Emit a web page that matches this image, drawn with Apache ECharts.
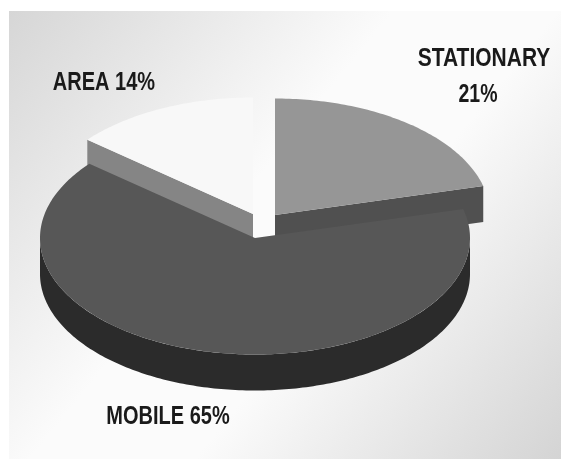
<!DOCTYPE html>
<html>
<head>
<meta charset="utf-8">
<style>html,body{margin:0;padding:0;background:#fff}#chart{width:561px;height:459px}</style>
<script src="https://cdn.jsdelivr.net/npm/echarts@6/dist/echarts.min.js"></script>
</head>
<body>
<div id="chart"></div>
<script>
// Emission sources, share of total in percent, clockwise from twelve o'clock
const categories = ['STATIONARY', 'MOBILE', 'AREA'];
const shares = [21, 65, 14];

// Projection of the tilted pie
const pie = { cx: 255, cy: 238, rx: 215, ry: 116.5, depth: 36 };

// Per-slice look: explode offset, fills and stacking order
const sliceStyle = {
  STATIONARY: { dx: 20, dy: -23, top: '#969696', wall: '#505050', z: 1 },
  MOBILE:     { dx: 0,  dy: 0,   top: '#575757', wall: '#2b2b2b', z: 3 },
  AREA:       { dx: -2, dy: -24, top: '#f8f8f8', wall: '#858585', z: 2 }
};

// Label placement; each row of text is centred on x and squeezed horizontally
const labelStyle = {
  STATIONARY: [
    { x: 484, y: 59, squeeze: 0.84, text: (n) => n },
    { x: 478, y: 95, squeeze: 0.78, text: (n, v) => v + '%' }
  ],
  MOBILE: [{ x: 168, y: 417, squeeze: 0.8, text: (n, v) => n + ' ' + v + '%' }],
  AREA:   [{ x: 104, y: 83,  squeeze: 0.8, text: (n, v) => n + ' ' + v + '%' }]
};

const total = shares.reduce((a, b) => a + b, 0);

// Point on the ellipse rim, angle in radians clockwise from the top
function rim(a, ox, oy, drop) {
  return [
    pie.cx + ox + pie.rx * Math.sin(a),
    pie.cy + oy + drop - pie.ry * Math.cos(a)
  ];
}

function arc(a0, a1, ox, oy, drop) {
  const pts = [];
  const n = Math.max(2, Math.ceil(Math.abs(a1 - a0) * 60));
  for (let i = 0; i <= n; i++) pts.push(rim(a0 + (a1 - a0) * i / n, ox, oy, drop));
  return pts;
}

function poly(points, fill, z2) {
  return { type: 'polygon', z2, shape: { points }, style: { fill }, silent: true };
}

function renderSlice(params, api) {
  const i = params.dataIndex;
  const name = categories[i];
  const s = sliceStyle[name];
  const before = shares.slice(0, i).reduce((a, b) => a + b, 0);
  const a0 = before / total * Math.PI * 2;
  const a1 = (before + api.value(0)) / total * Math.PI * 2;
  const apex = [pie.cx + s.dx, pie.cy + s.dy];
  const base = [apex[0], apex[1] + pie.depth];
  const children = [];

  // Cut faces, seen only where the radius faces the viewer
  const cuts = [];
  if (a1 < Math.PI) cuts.push(a1);
  if (a0 > Math.PI) cuts.push(a0);
  cuts.forEach((a) => {
    const top = rim(a, s.dx, s.dy, 0);
    const bottom = rim(a, s.dx, s.dy, pie.depth);
    children.push(poly([apex, top, bottom, base], s.wall, s.z * 10));
  });

  // Rim wall along the front half of the ellipse
  const w0 = Math.max(a0, Math.PI / 2);
  const w1 = Math.min(a1, Math.PI * 1.5);
  if (w1 > w0) {
    children.push(poly(
      arc(w0, w1, s.dx, s.dy, 0).concat(arc(w1, w0, s.dx, s.dy, pie.depth)),
      s.wall, s.z * 10 + 1
    ));
  }

  // Top face
  children.push(poly([apex].concat(arc(a0, a1, s.dx, s.dy, 0)), s.top, s.z * 10 + 2));

  // Caption
  labelStyle[name].forEach((l) => {
    children.push({
      type: 'text', z2: 100, silent: true,
      x: l.x, y: l.y, scaleX: l.squeeze,
      style: {
        x: 0, y: 0, text: l.text(name, api.value(0)),
        align: 'center', verticalAlign: 'middle',
        font: 'bold 25px "Liberation Sans", sans-serif',
        fill: '#1a1a1a'
      }
    });
  });
  return { type: 'group', children };
}

const chart = echarts.init(document.getElementById('chart'), null, { renderer: 'canvas' });
chart.setOption({
  animation: false,
  backgroundColor: '#ffffff',
  graphic: [{
    type: 'rect', z: -1, silent: true,
    shape: { x: 9, y: 11, width: 552, height: 448 },
    style: {
      fill: new echarts.graphic.LinearGradient(0, 0, 1, 1, [
        { offset: 0, color: '#d6d6d6' },
        { offset: 0.42, color: '#fbfbfb' },
        { offset: 0.6, color: '#fbfbfb' },
        { offset: 1, color: '#d4d4d4' }
      ])
    }
  }],
  series: [{
    type: 'custom',
    coordinateSystem: 'none',
    renderItem: renderSlice,
    data: shares.map((v) => [v])
  }]
});
</script>
</body>
</html>
